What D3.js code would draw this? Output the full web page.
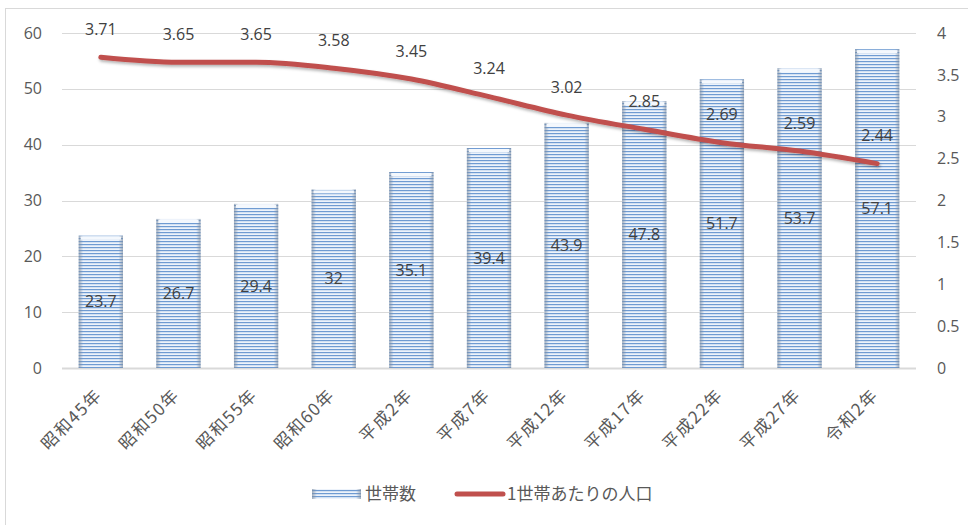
<!DOCTYPE html>
<html>
<head>
<meta charset="utf-8">
<script src="https://cdn.jsdelivr.net/npm/d3@7"></script>
<style>
  body { margin: 0; background: #fff; }
  svg { display: block; font-family: "Noto Sans CJK JP", "Open Sans", sans-serif; }
</style>
</head>
<body>
<div id="container"></div>
<script>
// chart data
var categories = ["昭和45年", "昭和50年", "昭和55年", "昭和60年", "平成2年", "平成7年",
                  "平成12年", "平成17年", "平成22年", "平成27年", "令和2年"];
var households = [23.7, 26.7, 29.4, 32, 35.1, 39.4, 43.9, 47.8, 51.7, 53.7, 57.1];
var perHousehold = [3.71, 3.65, 3.65, 3.58, 3.45, 3.24, 3.02, 2.85, 2.69, 2.59, 2.44];
var leftTicks = [0, 10, 20, 30, 40, 50, 60];
var rightTicks = [0, 0.5, 1, 1.5, 2, 2.5, 3, 3.5, 4];
var seriesNames = ["世帯数", "1世帯あたりの人口"];

var width = 968, height = 525;
var plotLeft = 62, plotRight = 916, plotTop = 33, plotBottom = 368;

var svg = d3.select("#container").append("svg")
    .attr("width", width)
    .attr("height", height);

var defs = svg.append("defs");

// striped bar fill
var pat = defs.append("pattern")
    .attr("id", "stripes")
    .attr("patternUnits", "userSpaceOnUse")
    .attr("width", 4).attr("height", 3);
pat.append("rect").attr("width", 4).attr("height", 3).attr("fill", "#edf3fb");
pat.append("rect").attr("y", 1).attr("width", 4).attr("height", 1.2).attr("fill", "#6f9bd2");

var edge = defs.append("linearGradient").attr("id", "edge");
edge.append("stop").attr("offset", "0%").attr("stop-color", "#7f8fa3").attr("stop-opacity", 0.7);
edge.append("stop").attr("offset", "10%").attr("stop-color", "#7f8fa3").attr("stop-opacity", 0);
edge.append("stop").attr("offset", "90%").attr("stop-color", "#7f8fa3").attr("stop-opacity", 0);
edge.append("stop").attr("offset", "100%").attr("stop-color", "#7f8fa3").attr("stop-opacity", 0.7);

var shadow = defs.append("filter").attr("id", "shadow")
    .attr("x", "-10%").attr("y", "-50%").attr("width", "120%").attr("height", "200%");
shadow.append("feDropShadow")
    .attr("dx", 1).attr("dy", 2).attr("stdDeviation", 1.5)
    .attr("flood-color", "#000").attr("flood-opacity", 0.3);

// outer frame
svg.append("rect")
    .attr("x", 5.5).attr("y", 8.5)
    .attr("width", 990).attr("height", 540)
    .attr("fill", "none").attr("stroke", "#d9d9d9");

var x = d3.scaleBand()
    .domain(categories)
    .range([plotLeft, plotRight])
    .paddingInner(0.43)
    .paddingOuter(0.215);

var y = d3.scaleLinear().domain([0, 60]).range([plotBottom, plotTop]);
var y2 = d3.scaleLinear().domain([0, 4]).range([plotBottom, plotTop]);

// gridlines
svg.append("g").selectAll("line")
    .data(leftTicks)
    .enter().append("line")
    .attr("x1", plotLeft).attr("x2", plotRight)
    .attr("y1", function (d) { return Math.round(y(d)) + 0.5; })
    .attr("y2", function (d) { return Math.round(y(d)) + 0.5; })
    .attr("stroke", "#d9d9d9")
    .attr("stroke-width", function (d) { return d === 0 ? 2 : 1; });

// axes
var yAxis = svg.append("g")
    .attr("transform", "translate(" + (plotLeft - 20) + ",0)")
    .call(d3.axisLeft(y).tickValues(leftTicks).tickSize(0).tickPadding(0));
var y2Axis = svg.append("g")
    .attr("transform", "translate(" + (plotRight + 21) + ",0)")
    .call(d3.axisRight(y2).tickValues(rightTicks).tickFormat(d3.format("~g"))
        .tickSize(0).tickPadding(0));
var xAxis = svg.append("g")
    .attr("transform", "translate(0," + plotBottom + ")")
    .call(d3.axisBottom(x).tickSize(0));

[yAxis, y2Axis, xAxis].forEach(function (a) {
    a.select(".domain").remove();
    a.selectAll("text")
        .style("font-size", "16px")
        .style("font-family", "'Open Sans', 'Noto Sans CJK JP', sans-serif")
        .attr("fill", "#595959");
});

xAxis.selectAll("text")
    .style("font-family", "'Noto Sans CJK JP', sans-serif")
    .style("font-size", "17px")
    .style("letter-spacing", "1.5px")
    .attr("text-anchor", "end")
    .attr("y", 0).attr("dy", "0.35em")
    .attr("transform", "translate(-2,24) rotate(-45)");

// bars
var bars = svg.append("g");
bars.selectAll(".bar")
    .data(households)
    .enter().append("rect")
    .attr("class", "bar")
    .attr("x", function (d, i) { return x(categories[i]); })
    .attr("y", function (d) { return y(d); })
    .attr("width", x.bandwidth())
    .attr("height", function (d) { return y(0) - y(d); })
    .attr("fill", "url(#stripes)");
bars.selectAll(".edge")
    .data(households)
    .enter().append("rect")
    .attr("class", "edge")
    .attr("x", function (d, i) { return x(categories[i]); })
    .attr("y", function (d) { return y(d); })
    .attr("width", x.bandwidth())
    .attr("height", function (d) { return y(0) - y(d); })
    .attr("fill", "url(#edge)");
bars.selectAll(".cap")
    .data(households)
    .enter().append("rect")
    .attr("class", "cap")
    .attr("x", function (d, i) { return x(categories[i]) + 2; })
    .attr("y", function (d) { return y(d) + 1; })
    .attr("width", x.bandwidth() - 4)
    .attr("height", 3)
    .attr("fill", "#f4f8fd");

// bar labels
svg.append("g").selectAll("text")
    .data(households)
    .enter().append("text")
    .attr("x", function (d, i) { return x(categories[i]) + x.bandwidth() / 2; })
    .attr("y", function (d) { return (y(d) + y(0)) / 2; })
    .attr("dy", "0.35em")
    .attr("text-anchor", "middle")
    .style("font-size", "16px")
    .style("font-family", "'Open Sans', sans-serif")
    .attr("fill", "#404040")
    .text(function (d) { return d; });

// line
var line = d3.line()
    .x(function (d, i) { return x(categories[i]) + x.bandwidth() / 2; })
    .y(function (d) { return y2(d); })
    .curve(d3.curveMonotoneX);

svg.append("path")
    .datum(perHousehold)
    .attr("d", line)
    .attr("fill", "none")
    .attr("stroke", "#c0504d")
    .attr("stroke-width", 5)
    .attr("stroke-linecap", "round")
    .attr("filter", "url(#shadow)");

svg.append("g").selectAll("text")
    .data(perHousehold)
    .enter().append("text")
    .attr("x", function (d, i) { return x(categories[i]) + x.bandwidth() / 2; })
    .attr("y", function (d) { return y2(d) - 28; })
    .attr("dy", "0.35em")
    .attr("text-anchor", "middle")
    .style("font-size", "16px")
    .style("font-family", "'Open Sans', sans-serif")
    .attr("fill", "#404040")
    .text(function (d) { return d.toFixed(2); });

// legend
var legend = svg.append("g");
legend.append("rect")
    .attr("x", 312).attr("y", 489).attr("width", 49).attr("height", 10)
    .attr("fill", "url(#stripes)");
legend.append("rect")
    .attr("x", 312).attr("y", 489).attr("width", 49).attr("height", 10)
    .attr("fill", "url(#edge)");
legend.append("text")
    .attr("x", 365).attr("y", 494).attr("dy", "0.35em")
    .style("font-size", "17px").attr("fill", "#595959")
    .text(seriesNames[0]);
legend.append("line")
    .attr("x1", 457).attr("x2", 503).attr("y1", 494).attr("y2", 494)
    .attr("stroke", "#c0504d").attr("stroke-width", 5).attr("stroke-linecap", "round");
legend.append("text")
    .attr("x", 507).attr("y", 494).attr("dy", "0.35em")
    .style("font-size", "17px").attr("fill", "#595959")
    .text(seriesNames[1]);
</script>
</body>
</html>
